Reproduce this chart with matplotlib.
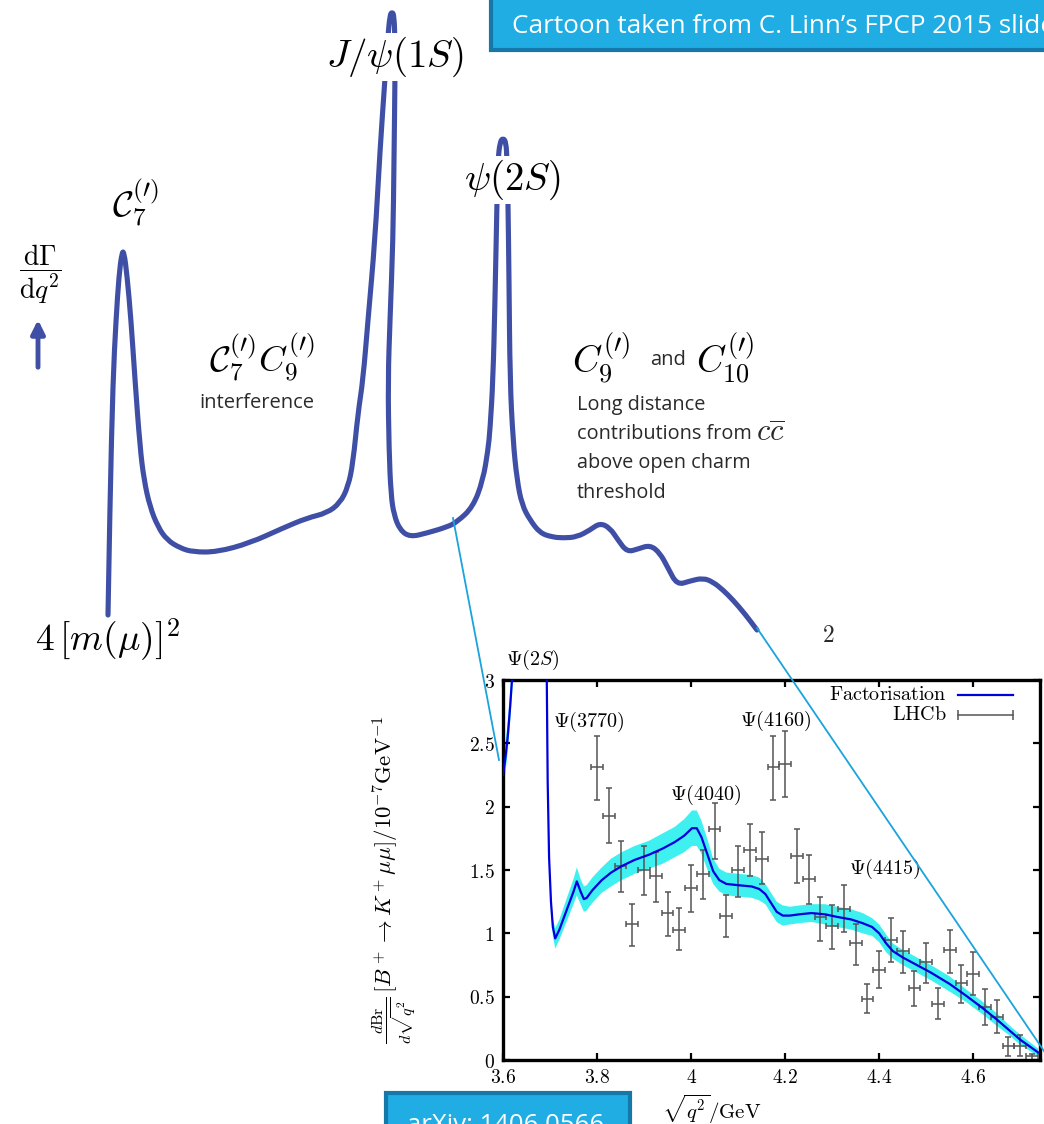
import numpy as np
import matplotlib.pyplot as plt
from matplotlib.patches import Rectangle, PathPatch
from matplotlib.path import Path

plt.rcParams['mathtext.fontset'] = 'cm'

W, H = 1044, 1124

# cartoon curve (slide pixel units, y grows downward)
cartoon_x = [108, 110, 113, 116, 119, 122, 124, 127, 131, 135, 140, 144, 150, 158, 167, 180,
             193, 217, 250, 283, 307, 327, 340, 348, 353, 358, 363, 368, 375, 380, 385, 388,
             390, 392, 394, 395, 395, 394, 393, 390, 388, 389, 391, 394, 400, 410, 427, 447,
             457, 473, 483, 488, 490, 493, 495, 497, 498, 500, 503, 506, 507, 508, 509, 510,
             513, 517, 522, 530, 540, 552, 563, 577, 590, 600, 610, 618, 627, 638, 650, 660,
             668, 677, 690, 703, 713, 723, 733, 745, 757]
cartoon_y = [615, 500, 380, 320, 275, 252, 252, 275, 320, 380, 447, 480, 507, 527, 540, 548,
             552, 552, 543, 528, 518, 513, 503, 487, 463, 413, 380, 320, 240, 150, 78, 35,
             15, 12, 15, 40, 78, 160, 240, 320, 380, 450, 495, 515, 530, 537, 533, 527,
             522, 507, 480, 450, 430, 380, 300, 200, 160, 142, 138, 142, 160, 200, 280, 380,
             440, 480, 505, 520, 533, 537, 538, 537, 530, 523, 528, 540, 552, 549, 545, 553,
             568, 585, 581, 578, 582, 590, 600, 614, 630]

# inset: factorisation prediction
fit_x = [3.600, 3.605, 3.610, 3.615, 3.620, 3.686, 3.693, 3.695, 3.698, 3.702,
         3.706, 3.711, 3.720, 3.735, 3.750, 3.757, 3.765, 3.772, 3.778, 3.790,
         3.810, 3.830, 3.852, 3.880, 3.910, 3.940, 3.965, 3.985, 4.002, 4.012,
         4.022, 4.035, 4.047, 4.060, 4.075, 4.100, 4.129, 4.145, 4.158, 4.170,
         4.182, 4.195, 4.210, 4.230, 4.256, 4.285, 4.310, 4.340, 4.365, 4.385,
         4.400, 4.415, 4.429, 4.450, 4.475, 4.510, 4.550, 4.584, 4.620, 4.650,
         4.675, 4.700, 4.738]
fit_y = [2.25, 2.38, 2.55, 2.78, 3.05, 12.0, 3.05, 2.20, 1.60, 1.25,
         1.05, 0.96, 1.03, 1.18, 1.33, 1.41, 1.33, 1.27, 1.28, 1.34,
         1.42, 1.48, 1.53, 1.58, 1.62, 1.67, 1.72, 1.77, 1.83, 1.83,
         1.76, 1.62, 1.49, 1.42, 1.39, 1.38, 1.37, 1.35, 1.31, 1.24,
         1.17, 1.14, 1.14, 1.15, 1.16, 1.15, 1.13, 1.11, 1.08, 1.05,
         1.00, 0.92, 0.86, 0.81, 0.76, 0.69, 0.60, 0.51, 0.41, 0.32,
         0.24, 0.16, 0.06]
fit_err = [0.12, 0.12, 0.12, 0.12, 0.12, 0.10, 0.05, 0.05, 0.05, 0.06,
           0.07, 0.08, 0.08, 0.09, 0.10, 0.11, 0.10, 0.10, 0.10, 0.10,
           0.10, 0.11, 0.11, 0.11, 0.11, 0.12, 0.12, 0.13, 0.14, 0.14,
           0.13, 0.12, 0.10, 0.09, 0.09, 0.09, 0.09, 0.09, 0.08, 0.08,
           0.08, 0.08, 0.07, 0.07, 0.07, 0.08, 0.08, 0.08, 0.08, 0.07,
           0.07, 0.07, 0.06, 0.06, 0.06, 0.06, 0.06, 0.05, 0.05, 0.05,
           0.04, 0.04, 0.03]

# inset: LHCb bins
lhcb_x = [3.800, 3.825, 3.850, 3.875, 3.900, 3.925, 3.950, 3.975, 4.000, 4.025,
          4.050, 4.075, 4.100, 4.125, 4.150, 4.175, 4.200, 4.225, 4.250, 4.275,
          4.300, 4.325, 4.350, 4.375, 4.400, 4.425, 4.450, 4.475, 4.500, 4.525,
          4.550, 4.575, 4.600, 4.625, 4.650, 4.675, 4.700, 4.725]
lhcb_y = [2.31, 1.93, 1.53, 1.07, 1.50, 1.45, 1.16, 1.03, 1.36, 1.47,
          1.82, 1.14, 1.50, 1.66, 1.59, 2.31, 2.34, 1.61, 1.43, 1.13,
          1.06, 1.19, 0.92, 0.48, 0.71, 0.95, 0.86, 0.57, 0.77, 0.44,
          0.87, 0.61, 0.68, 0.42, 0.34, 0.11, 0.11, 0.03]
lhcb_hi = [2.56, 2.15, 1.73, 1.23, 1.69, 1.64, 1.33, 1.20, 1.54, 1.66,
           2.03, 1.30, 1.69, 1.86, 1.80, 2.56, 2.60, 1.82, 1.62, 1.29,
           1.22, 1.38, 1.07, 0.60, 0.86, 1.12, 1.02, 0.70, 0.92, 0.57,
           1.03, 0.75, 0.85, 0.56, 0.47, 0.18, 0.20, 0.05]
lhcb_lo = [2.05, 1.71, 1.33, 0.90, 1.30, 1.25, 0.98, 0.87, 1.17, 1.27,
           1.59, 0.97, 1.29, 1.45, 1.39, 2.05, 2.08, 1.40, 1.23, 0.94,
           0.88, 1.01, 0.75, 0.37, 0.57, 0.77, 0.69, 0.43, 0.61, 0.32,
           0.69, 0.45, 0.51, 0.28, 0.21, 0.03, 0.03, 0.00]
lhcb_halfbin = 0.0125

x_ticks = [3.6, 3.8, 4.0, 4.2, 4.4, 4.6]
x_ticklabels = ['$3.6$', '$3.8$', '$4$', '$4.2$', '$4.4$', '$4.6$']
y_ticks = [0, 0.5, 1, 1.5, 2, 2.5, 3]
y_ticklabels = ['$0$', '$0.5$', '$1$', '$1.5$', '$2$', '$2.5$', '$3$']

res_names = [r'$\Psi(3770)$', r'$\Psi(4040)$', r'$\Psi(4160)$', r'$\Psi(4415)$']
res_x = [3.783, 4.032, 4.181, 4.411]
res_y = [2.67, 2.09, 2.68, 1.51]

cartoon_blue = '#3f4fa6'
link_blue = '#1aa3dc'
box_fill = '#1fade4'
box_edge = '#1479a8'
text_grey = '#2a2a2a'
sans = 'Open Sans'


def smooth_path(xs, ys):
    # quadratic bezier through the midpoints, so the hand drawn cartoon has no corners
    pts = list(zip(xs, ys))
    verts = [pts[0]]
    codes = [Path.MOVETO]
    for i in range(1, len(pts) - 1):
        mid = ((pts[i][0] + pts[i + 1][0]) / 2, (pts[i][1] + pts[i + 1][1]) / 2)
        verts += [pts[i], mid]
        codes += [Path.CURVE3, Path.CURVE3]
    verts.append(pts[-1])
    codes.append(Path.LINETO)
    return Path(verts, codes)


fig = plt.figure(figsize=(W / 100, H / 100), dpi=100)
fig.patch.set_facecolor('white')

# ---- cartoon ----
bg = fig.add_axes([0, 0, 1, 1])
bg.set_xlim(0, W)
bg.set_ylim(H, 0)
bg.axis('off')

bg.add_patch(PathPatch(smooth_path(cartoon_x, cartoon_y), fill=False,
                       edgecolor=cartoon_blue, lw=3.7, capstyle='round', joinstyle='round'))

bg.text(135, 203, r'$\mathcal{C}_7^{(\prime)}$', fontsize=26, ha='center', va='center')
bg.text(40, 274, r'$\dfrac{\mathrm{d}\Gamma}{\mathrm{d}q^2}$', fontsize=20, ha='center', va='center')
bg.annotate('', xy=(38, 317), xytext=(38, 370),
            arrowprops=dict(arrowstyle='-|>', color=cartoon_blue, lw=3.5, mutation_scale=20))
bg.text(262, 358, r'$\mathcal{C}_7^{(\prime)}C_9^{(\prime)}$', fontsize=26, ha='center', va='center')
bg.text(257, 403, 'interference', fontsize=14.5, family=sans, color=text_grey,
        ha='center', va='center')
bg.text(395, 57, r'$J/\psi(1S)$', fontsize=28, ha='center', va='center',
        bbox=dict(facecolor='white', edgecolor='none', pad=1))
bg.text(512, 180, r'$\psi(2S)$', fontsize=28, ha='center', va='center',
        bbox=dict(facecolor='white', edgecolor='none', pad=1))
bg.text(601, 358, r'$C_9^{(\prime)}$', fontsize=27, ha='center', va='center')
bg.text(668, 360, 'and', fontsize=14.5, family=sans, color=text_grey, ha='center', va='center')
bg.text(725, 358, r'$C_{10}^{(\prime)}$', fontsize=27, ha='center', va='center')
long_lines = ['Long distance', 'contributions from', 'above open charm', 'threshold']
for k, s in enumerate(long_lines):
    bg.text(577, 405 + 29.2 * k, s, fontsize=14.3, family=sans, color=text_grey,
            ha='left', va='center')
bg.text(756, 433, r'$c\overline{c}$', fontsize=22, color=text_grey, ha='left', va='center')
bg.text(828, 642, r'$2$', fontsize=17, ha='center', va='baseline', color=text_grey)

bg.text(108, 640, r'$4\,[m(\mu)]^2$', fontsize=27, ha='center', va='center')

# ---- inset ----
ax = fig.add_axes([503 / W, 1 - 1060 / H, (1040 - 503) / W, 380 / H])
ax.set_facecolor('white')
lo = np.array(fit_y) - np.array(fit_err)
hi = np.array(fit_y) + np.array(fit_err)
ax.fill_between(fit_x, lo, hi, color='#3ff0f0', lw=0, zorder=1)
ax.plot(fit_x, fit_y, color='#0000dd', lw=1.6, zorder=3)
ax.errorbar(lhcb_x, lhcb_y,
            yerr=[np.array(lhcb_y) - np.array(lhcb_lo), np.array(lhcb_hi) - np.array(lhcb_y)],
            xerr=lhcb_halfbin, fmt='none', ecolor='#555555', elinewidth=1.1,
            capsize=2.2, capthick=1.1, zorder=2)
ax.set_xlim(3.6, 4.742)
ax.set_ylim(0, 3)
ax.set_xticks(x_ticks)
ax.set_xticklabels(x_ticklabels)
ax.set_yticks(y_ticks)
ax.set_yticklabels(y_ticklabels)
ax.tick_params(direction='in', top=True, right=True, length=5, width=1.6,
               labelsize=14, pad=6)
for sp in ax.spines.values():
    sp.set_linewidth(2.4)

for name, rx, ry in zip(res_names, res_x, res_y):
    ax.text(rx, ry, name, fontsize=14.5, ha='center', va='center')

ax.set_ylabel(r'$\frac{d\mathrm{Br}}{d\sqrt{q^2}}\,[B^+\to K^+\mu\mu]/10^{-7}\mathrm{GeV}^{-1}$',
              fontsize=16.5)
ax.yaxis.set_label_coords(-0.158, 0.475)
ax.set_xlabel(r'$\sqrt{q^2}/\mathrm{GeV}$', fontsize=15)
ax.xaxis.set_label_coords(0.389, -0.085)

# legend drawn like gnuplot's key
ax.text(0.827, 0.961, r'$\mathrm{Factorisation}$', transform=ax.transAxes,
        fontsize=14.5, ha='right', va='center')
ax.plot([0.847, 0.950], [0.961, 0.961], transform=ax.transAxes, color='#0000dd', lw=1.6)
ax.text(0.827, 0.908, r'$\mathrm{LHCb}$', transform=ax.transAxes,
        fontsize=14.5, ha='right', va='center')
ax.plot([0.847, 0.950], [0.908, 0.908], transform=ax.transAxes, color='#555555', lw=1.1)
ax.plot([0.847, 0.950], [0.908, 0.908], transform=ax.transAxes, color='#555555',
        ls='none', marker='|', ms=7, mew=1.1)

# ---- overlay: zoom lines and slide boxes ----
ov = fig.add_axes([0, 0, 1, 1], zorder=5)
ov.set_xlim(0, W)
ov.set_ylim(H, 0)
ov.patch.set_alpha(0)
ov.axis('off')

ov.plot([453, 499], [518, 760], color=link_blue, lw=1.3)
ov.plot([757, 1046], [628, 1054], color=link_blue, lw=1.3)
ov.text(533, 660, r'$\Psi(2S)$', fontsize=14.5, ha='center', va='center')

ov.add_patch(Rectangle((491, -10), 570, 60, facecolor=box_fill, edgecolor=box_edge, lw=3))
ov.text(512, 33, 'Cartoon taken from C. Linn\u2019s FPCP 2015 slide', fontsize=18.8,
        family=sans, color='white', ha='left', va='baseline')
ov.add_patch(Rectangle((386, 1093), 244, 50, facecolor=box_fill, edgecolor=box_edge, lw=3))
ov.text(407, 1132, 'arXiv: 1406.0566', fontsize=18.5, family=sans, color='white',
        ha='left', va='baseline')

fig.savefig('out.png', dpi=100)
